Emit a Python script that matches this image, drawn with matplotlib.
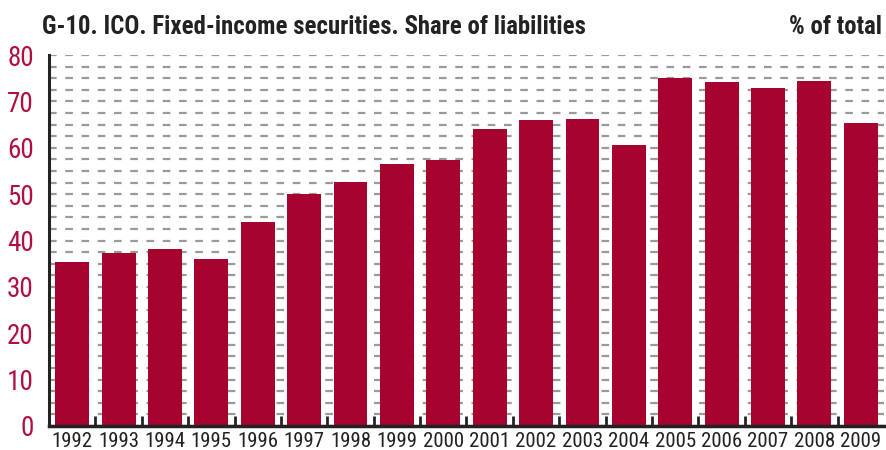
import matplotlib
matplotlib.use("Agg")
import matplotlib.pyplot as plt
from matplotlib import font_manager
from matplotlib.ticker import MultipleLocator, FixedLocator

# Fixed-income securities as a share of ICO liabilities
years = ["1992", "1993", "1994", "1995", "1996", "1997", "1998", "1999", "2000",
         "2001", "2002", "2003", "2004", "2005", "2006", "2007", "2008", "2009"]
share = [35.4, 37.4, 38.2, 36.1, 44.0, 50.0, 52.6, 56.5, 57.4,
         64.0, 65.9, 66.2, 60.6, 75.0, 74.1, 72.8, 74.3, 65.3]

# prefer a narrow sans, fall back to Liberation Sans
names = {f.name for f in font_manager.fontManager.ttflist}
narrow = "Liberation Sans"
for cand in ("Arial Narrow", "Liberation Sans Narrow", "Roboto Condensed", "Archivo Narrow"):
    if cand in names:
        narrow = cand
        break

plt.rcParams["font.family"] = [narrow, "DejaVu Sans"]
plt.rcParams["lines.scale_dashes"] = False

bar_color = "#A6032F"
label_color = "#B0103F"

fig = plt.figure(figsize=(8.87, 4.5), dpi=100)
ax = fig.add_axes([49 / 887, 24 / 450, 835 / 887, 371 / 450])

x = range(len(years))
ax.bar(x, share, width=0.73, color=bar_color, zorder=2)

ax.set_xlim(-0.5, len(years) - 0.5)
ax.set_ylim(0, 80)

# dashed grid every 2.5 points
ax.yaxis.set_major_locator(MultipleLocator(10))
ax.yaxis.set_minor_locator(MultipleLocator(2.5))
ax.grid(which="both", axis="y", color="#9a9a9a", linewidth=1.6,
        linestyle=(0, (5.5, 6.2)), zorder=0)
ax.set_axisbelow(True)

ax.set_xticks(list(x))
ax.set_xticklabels(years)
ax.xaxis.set_minor_locator(FixedLocator([i + 0.5 for i in range(len(years) - 1)]))
ax.tick_params(axis="x", which="major", length=0, pad=4, labelsize=15, labelcolor="#222222")
ax.tick_params(axis="x", which="minor", direction="in", length=7, width=2, color="#222222")
ax.tick_params(axis="y", which="both", length=0, pad=11, labelsize=19.5, labelcolor=label_color)

for side in ("top", "right"):
    ax.spines[side].set_visible(False)
ax.spines["left"].set_linewidth(2.2)
ax.spines["bottom"].set_linewidth(2.5)
ax.spines["left"].set_color("#222222")
ax.spines["bottom"].set_color("#222222")

fig.text(42 / 887, 1 - 27 / 450, "G-10. ICO. Fixed-income securities. Share of liabilities",
         fontsize=17.8, fontweight="bold", color="#222222", va="center", ha="left")
fig.text(882 / 887, 1 - 27 / 450, "% of total",
         fontsize=17.8, fontweight="bold", color="#222222", va="center", ha="right")

fig.savefig("out.png", dpi=100)
